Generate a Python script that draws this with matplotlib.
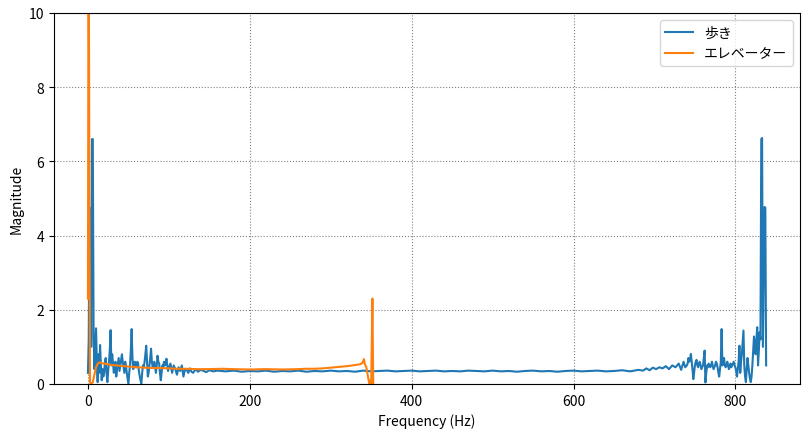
import numpy as np
import matplotlib
matplotlib.use("Agg")
from matplotlib import pyplot as plt

plt.rcParams['font.family'] = ['Noto Sans CJK JP', 'DejaVu Sans']

# 歩き (walking) spectrum
# low end, 1 Hz steps
walk_freq_lo = [0, 1, 2, 3, 4, 5, 6, 7, 8, 9, 10, 11, 12, 13, 14, 15, 16, 17, 18, 19, 20,
                21, 22, 23, 24, 25, 26, 27, 28, 29, 30, 31, 32, 33, 34, 35, 36, 37, 38, 39, 40,
                41, 42, 43, 44, 45, 46, 47, 48, 49, 50, 51, 52, 53, 54, 55, 56, 57, 58, 59, 60,
                61, 62, 63, 64, 65, 66, 67, 68, 69, 70, 71, 72, 73, 74, 75, 76, 77, 78, 79, 80,
                81, 82, 83, 84, 85, 86, 87, 88, 89, 90, 91, 92, 93, 94, 95, 96, 97, 98, 99, 100]
walk_mag_lo = [0.3, 1.2, 4.75, 4.7, 1.0, 6.6, 6.6, 1.3, 0.4, 1.0, 1.5, 0.6, 0.05, 0.8, 0.3, 1.05, 0.5, 0.1, 0.4, 0.2, 0.3,
               0.6, 0.7, 0.3, 0.05, 0.35, 0.6, 0.9, 1.45, 0.5, 0.8, 0.55, 0.3, 0.5, 0.6, 0.2, 0.4, 0.55, 0.7, 0.35, 0.5,
               0.65, 0.8, 0.6, 0.45, 0.3, 0.6, 0.5, 0.3, 0.15, 0.0, 0.3, 0.5, 0.9, 1.48, 0.7, 0.4, 0.55, 0.6, 0.5, 0.45,
               0.6, 0.55, 0.35, 0.2, 0.1, 0.0, 0.3, 0.5, 0.45, 0.6, 0.8, 1.03, 0.6, 0.2, 0.3, 0.5, 0.7, 0.95, 0.6, 0.45,
               0.5, 0.6, 0.45, 0.3, 0.5, 0.76, 0.6, 0.55, 0.3, 0.1, 0.3, 0.5, 0.45, 0.6, 0.5, 0.55, 0.68, 0.5, 0.35, 0.45]
# middle, mostly flat
walk_freq_mid = [102, 104, 106, 108, 110, 112, 114, 116, 118, 120, 122, 124, 126, 128, 130, 133, 136,
                 139, 142, 146, 150, 155, 160, 170, 180, 190, 200, 210, 220, 230, 240, 250, 260,
                 270, 280, 290, 300, 310, 320, 330, 340, 350, 360, 370, 380, 390, 400, 410,
                 420, 430, 440, 450, 460, 470, 480, 490, 500, 510, 520, 530, 540, 550, 560,
                 570, 580, 590, 600, 610, 620, 630, 640, 650, 660, 670, 680, 686, 690, 694,
                 698, 702, 706, 710, 714, 718, 722, 726, 730, 733, 736, 738]
walk_mag_mid = [0.55, 0.3, 0.5, 0.4, 0.25, 0.45, 0.35, 0.5, 0.2, 0.4, 0.38, 0.3, 0.42, 0.33, 0.3, 0.4, 0.33,
                0.38, 0.36, 0.32, 0.37, 0.34, 0.36, 0.34, 0.36, 0.33, 0.35, 0.34, 0.36, 0.33, 0.35, 0.34, 0.36,
                0.33, 0.35, 0.34, 0.36, 0.34, 0.35, 0.33, 0.36, 0.34, 0.35, 0.36, 0.34, 0.35, 0.36, 0.34,
                0.35, 0.36, 0.34, 0.35, 0.34, 0.36, 0.35, 0.34, 0.36, 0.34, 0.35, 0.33, 0.35, 0.36, 0.34,
                0.35, 0.33, 0.35, 0.36, 0.34, 0.35, 0.36, 0.34, 0.35, 0.37, 0.34, 0.38, 0.36, 0.42, 0.37,
                0.44, 0.40, 0.45, 0.42, 0.48, 0.40, 0.5, 0.45, 0.55, 0.38, 0.6, 0.45]
# high end, 1 Hz steps
walk_freq_hi = [740, 741, 742, 743, 744, 745, 746, 747, 748, 749, 750, 751, 752, 753, 754, 755,
                756, 757, 758, 759, 760, 761, 762, 763, 764, 765, 766, 767, 768, 769, 770, 771,
                772, 773, 774, 775, 776, 777, 778, 779, 780, 781, 782, 783, 784, 785, 786, 787,
                788, 789, 790, 791, 792, 793, 794, 795, 796, 797, 798, 799, 800, 801, 802, 803,
                804, 805, 806, 807, 808, 809, 810, 811, 812, 813, 814, 815, 816, 817, 818, 819,
                820, 821, 822, 823, 824, 825, 826, 827, 828, 829, 830, 831, 832, 833, 834, 835,
                836, 837, 838]
walk_mag_hi = [0.5, 0.55, 0.7, 0.6, 0.65, 0.81, 0.6, 0.4, 0.13, 0.3, 0.5, 0.6, 0.65, 0.5, 0.45, 0.55,
               0.6, 0.5, 0.4, 0.45, 0.5, 0.7, 0.9, 0.04, 0.3, 0.5, 0.45, 0.55, 0.5, 0.45, 0.5, 0.6,
               0.5, 0.4, 0.45, 0.5, 0.6, 0.55, 0.45, 0.3, 0.2, 0.4, 0.6, 1.48, 0.5, 0.55, 0.7, 0.5,
               0.45, 0.5, 0.6, 0.5, 0.4, 0.45, 0.55, 0.45, 0.5, 0.55, 0.6, 0.5, 0.45, 0.35, 0.2, 0.4,
               0.6, 1.03, 0.3, 0.6, 0.8, 1.1, 1.44, 0.5, 0.2, 0.05, 0.4, 0.7, 0.5, 0.3, 0.15, 0.05,
               0.2, 0.5, 0.9, 1.28, 1.0, 0.8, 1.2, 1.53, 0.5, 0.9, 1.4, 1.2, 6.6, 6.63, 1.0, 3.0,
               4.77, 4.75, 0.5]

# エレベーター (elevator) spectrum
elev_freq = [0, 0.8, 2.5, 4, 6, 8, 10, 12, 14, 17, 20, 25, 30, 40, 50, 60, 70, 80, 90, 100,
             110, 120, 135, 150, 165, 180, 200, 220, 240, 260, 270, 280, 290, 300, 310, 320,
             330, 336, 339, 341, 342, 344, 346, 347.5, 349, 350, 351.5, 352.5]
elev_mag = [2.3, 13.0, 0.05, 0.0, 0.05, 0.25, 0.45, 0.55, 0.58, 0.56, 0.55, 0.53, 0.51, 0.49, 0.47, 0.45, 0.44, 0.43, 0.43, 0.42,
            0.41, 0.41, 0.40, 0.40, 0.41, 0.40, 0.39, 0.40, 0.39, 0.40, 0.41, 0.41, 0.42, 0.44, 0.46, 0.48,
            0.51, 0.53, 0.56, 0.67, 0.55, 0.45, 0.2, 0.02, 0.1, 0.0, 2.3, 0.02]

walk_freq = walk_freq_lo + walk_freq_mid + walk_freq_hi
walk_mag = walk_mag_lo + walk_mag_mid + walk_mag_hi

fig = plt.figure(figsize=(8.1, 4.35), dpi=100)
ax = fig.add_axes([0.0667, 0.115, 0.921, 0.853])
ax.plot(walk_freq, walk_mag, label='歩き')
ax.plot(elev_freq, elev_mag, label='エレベーター')
ax.set_ylim(0, 10)
ax.set_xlabel('Frequency (Hz)')
ax.set_ylabel('Magnitude')
ax.grid(True, linestyle=':', color='gray')
ax.legend(loc='upper right')

fig.savefig('out.png', dpi=100)
